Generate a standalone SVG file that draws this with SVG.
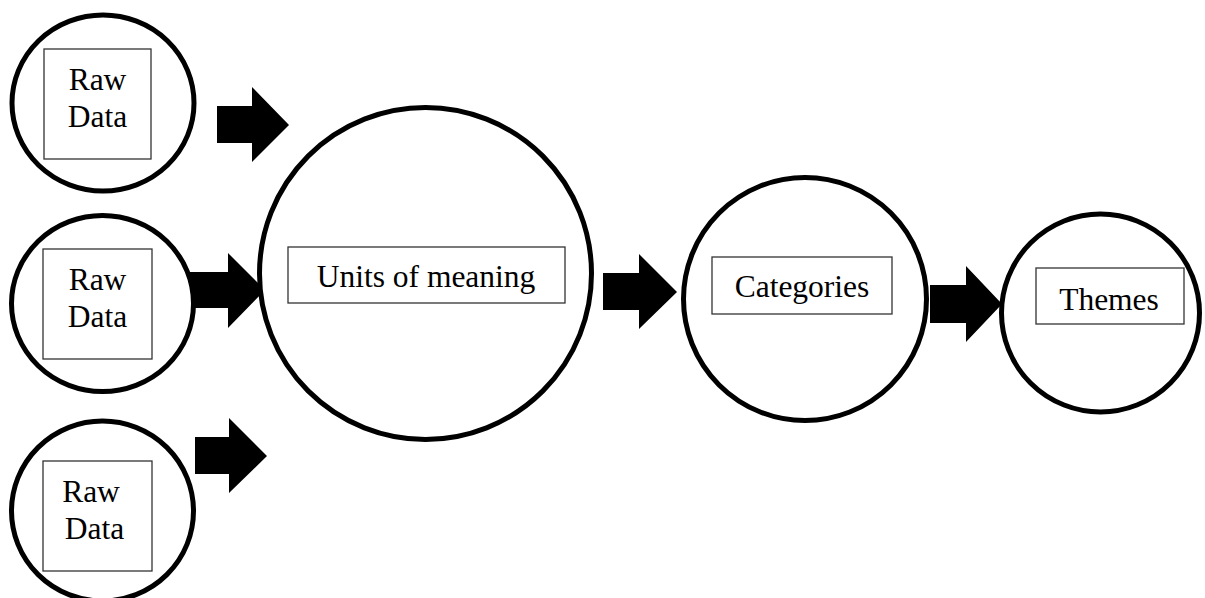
<svg xmlns="http://www.w3.org/2000/svg" width="1205" height="598" viewBox="0 0 1205 598">
<style>
.c{fill:#fff;stroke:#000;stroke-width:5}
.b{fill:#fff;stroke:#333;stroke-width:1.3}
.t{font-family:"Liberation Serif","Times New Roman",serif;font-size:31.5px;fill:#000;text-anchor:middle}
.a{fill:#000;stroke:none}
</style>
<rect width="1205" height="598" fill="#fff"/>
<g id="connectors">
<polygon class="a" points="217,106 252,106 252,87 289,125 252,162 252,143 217,143"/>
<polygon class="a" points="190,272 228,272 228,253 265,290 228,328 228,308 190,308"/>
<polygon class="a" points="195,437 229,437 229,418 267,456 229,493 229,474 195,474"/>
<polygon class="a" points="603,273 639,273 639,254 677,292 639,329 639,310 603,310"/>
<polygon class="a" points="930,285 966,285 966,266 1002,304 966,342 966,323 930,323"/>
</g>
<g id="raw1">
<ellipse class="c" cx="103" cy="103" rx="91" ry="88"/>
<rect class="b" x="44" y="49" width="107" height="110"/>
<text class="t" x="97.5" y="90">Raw</text>
<text class="t" x="97.5" y="127">Data</text>
</g>
<g id="raw2">
<ellipse class="c" cx="102.5" cy="303.5" rx="91" ry="88"/>
<rect class="b" x="43" y="249" width="109" height="110"/>
<text class="t" x="97.5" y="290">Raw</text>
<text class="t" x="97.5" y="327">Data</text>
</g>
<g id="raw3">
<ellipse class="c" cx="102.5" cy="511" rx="91" ry="90"/>
<rect class="b" x="43" y="461" width="109" height="110"/>
<text class="t" x="91" y="502">Raw</text>
<text class="t" x="94.5" y="539">Data</text>
</g>
<g id="units">
<circle class="c" cx="425.5" cy="273.5" r="166"/>
<rect class="b" x="288" y="247" width="277" height="56"/>
<text class="t" x="426" y="287">Units of meaning</text>
</g>
<g id="categories">
<circle class="c" cx="805" cy="299" r="121.5"/>
<rect class="b" x="712" y="257" width="180" height="57"/>
<text class="t" x="802" y="297">Categories</text>
</g>
<g id="themes">
<circle class="c" cx="1100.5" cy="313" r="99"/>
<rect class="b" x="1036" y="268" width="148" height="56"/>
<text class="t" x="1109" y="310">Themes</text>
</g>
</svg>
